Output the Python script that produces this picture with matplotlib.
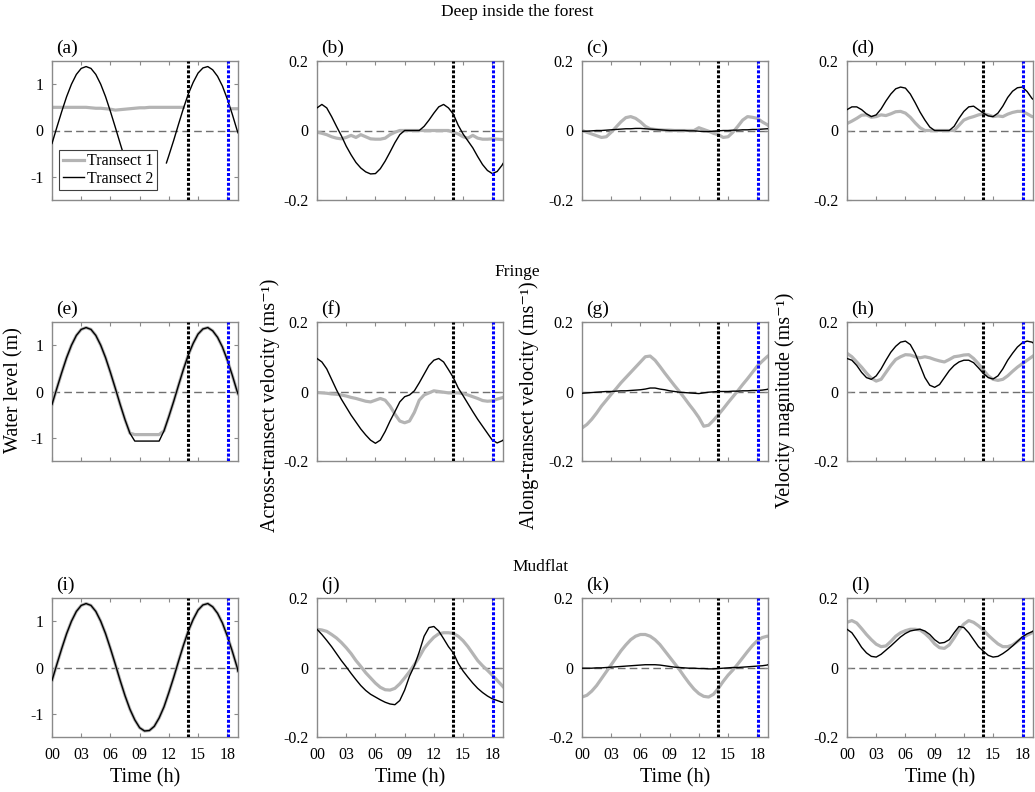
import matplotlib
matplotlib.use("Agg")
import matplotlib.pyplot as plt

plt.rcParams["font.family"] = ["Liberation Serif", "DejaVu Serif"]
plt.rcParams["axes.unicode_minus"] = False

nan = float("nan")

hours = [0, 0.5, 1, 1.5, 2, 2.5, 3, 3.5, 4, 4.5, 5, 5.5, 6, 6.5, 7, 7.5, 8, 8.5, 9, 9.5,
         10, 10.5, 11, 11.5, 12, 12.5, 13, 13.5, 14, 14.5, 15, 15.5, 16, 16.5, 17, 17.5,
         18, 18.5, 19, 19.1]
hours_a = [0, 0.5, 1, 1.5, 2, 2.5, 3, 3.5, 4, 4.5, 5, 5.5, 6, 6.5, 7, 7.25, 9.5, 11.75,
           12, 12.5, 13, 13.5, 14, 14.5, 15, 15.5, 16, 16.5, 17, 17.5, 18, 18.5, 19, 19.1]

# Deep inside the forest
forest_level_t1 = [0.5, 0.5, 0.5, 0.5, 0.5, 0.5, 0.5, 0.5, 0.49, 0.48, 0.48, 0.47, 0.46, 0.44,
                   0.45, 0.46, 0.47, 0.48, 0.49, 0.49, 0.5, 0.5, 0.5, 0.5, 0.5, 0.5, 0.5, 0.5,
                   nan, nan, nan, nan, nan, nan, nan, nan, nan, 0.47, 0.47, 0.47]
forest_level_t2 = [-0.28, 0.07, 0.41, 0.73, 1.00, 1.21, 1.34, 1.38, 1.34, 1.21, 1.00, 0.73,
                   0.41, 0.07, -0.28, -0.45, nan, -0.70, -0.54, -0.21, 0.14, 0.48, 0.79, 1.04,
                   1.24, 1.35, 1.38, 1.31, 1.17, 0.96, 0.68, 0.36, 0.01, -0.05]
forest_across_t1 = [-0.005, -0.008, -0.012, -0.018, -0.022, -0.024, -0.02, -0.014, -0.02, -0.012,
                    -0.018, -0.024, -0.025, -0.025, -0.022, -0.012, -0.005, 0, 0, 0, 0, 0, 0, 0,
                    0, 0, 0, 0, -0.005, -0.01, -0.018, -0.022, -0.014, -0.022, -0.025, -0.025,
                    -0.024, -0.025, -0.026, -0.026]
forest_across_t2 = [0.065, 0.075, 0.065, 0.04, 0.012, -0.015, -0.045, -0.07, -0.092, -0.108,
                    -0.119, -0.125, -0.124, -0.11, -0.088, -0.062, -0.035, -0.012, 0, 0, 0, 0,
                    0.012, 0.03, 0.05, 0.068, 0.075, 0.065, 0.047, 0.015, -0.01, -0.03, -0.05,
                    -0.075, -0.098, -0.115, -0.124, -0.118, -0.1, -0.095]
forest_along_t1 = [0.0, -0.005, -0.01, -0.015, -0.02, -0.018, -0.005, 0.01, 0.025, 0.037, 0.04,
                   0.035, 0.025, 0.012, 0.005, 0.003, 0.002, 0.001, 0.001, 0, 0, 0, 0, 0, 0.008,
                   0.003, -0.002, -0.008, -0.012, -0.02, -0.018, -0.005, 0.012, 0.03, 0.04,
                   0.038, 0.035, 0.025, 0.017, 0.015]
forest_along_t2 = [-0.002, -0.002, -0.001, 0, 0, 0.001, 0.002, 0.003, 0.004, 0.005, 0.005,
                   0.006, 0.006, 0.005, 0.004, 0.003, 0.002, 0.001, 0, 0, 0, 0, -0.001, -0.001,
                   -0.002, -0.003, -0.003, -0.002, -0.001, 0, 0, 0.001, 0.001, 0.002, 0.002,
                   0.003, 0.003, 0.004, 0.005, 0.005]
forest_speed_t1 = [0.02, 0.027, 0.035, 0.044, 0.045, 0.038, 0.04, 0.045, 0.043, 0.048, 0.054,
                   0.055, 0.05, 0.038, 0.022, 0.008, 0, 0, 0, 0, 0, 0, 0, 0.015, 0.03, 0.036,
                   0.04, 0.045, 0.048, 0.045, 0.04, 0.042, 0.04, 0.047, 0.052, 0.055, 0.055,
                   0.048, 0.04, 0.04]
forest_speed_t2 = [0.06, 0.068, 0.068, 0.06, 0.048, 0.04, 0.045, 0.062, 0.085, 0.105, 0.12,
                   0.125, 0.122, 0.105, 0.08, 0.053, 0.03, 0.01, 0, 0, 0, 0, 0.012, 0.035,
                   0.055, 0.068, 0.07, 0.06, 0.05, 0.042, 0.04, 0.05, 0.07, 0.095, 0.113,
                   0.123, 0.125, 0.112, 0.092, 0.09]

# Fringe
fringe_level_t1 = [-0.28, 0.07, 0.41, 0.73, 1.00, 1.21, 1.34, 1.38, 1.34, 1.21, 1.00, 0.73,
                   0.41, 0.07, -0.28, -0.61, -0.90, -0.93, -0.93, -0.93, -0.93, -0.93, -0.93,
                   -0.85, -0.54, -0.21, 0.14, 0.48, 0.79, 1.04, 1.24, 1.35, 1.38, 1.31, 1.17,
                   0.96, 0.68, 0.36, 0.01, -0.05]
fringe_level_t2 = [-0.28, 0.07, 0.41, 0.73, 1.00, 1.21, 1.34, 1.38, 1.34, 1.21, 1.00, 0.73,
                   0.41, 0.07, -0.28, -0.61, -0.90, -1.07, -1.07, -1.07, -1.07, -1.07, -1.07,
                   -0.85, -0.54, -0.21, 0.14, 0.48, 0.79, 1.04, 1.24, 1.35, 1.38, 1.31, 1.17,
                   0.96, 0.68, 0.36, 0.01, -0.05]
fringe_across_t1 = [-0.003, -0.004, -0.005, -0.007, -0.008, -0.01, -0.013, -0.017, -0.02,
                    -0.024, -0.028, -0.03, -0.025, -0.02, -0.025, -0.042, -0.065, -0.085,
                    -0.09, -0.085, -0.06, -0.025, -0.01, -0.004, 0.002, 0.0, -0.002, -0.004,
                    -0.004, -0.004, -0.006, -0.01, -0.015, -0.02, -0.026, -0.028, -0.027,
                    -0.022, -0.018, -0.017]
fringe_across_t2 = [0.095, 0.085, 0.065, 0.035, 0.005, -0.022, -0.045, -0.068, -0.088, -0.108,
                    -0.125, -0.14, -0.149, -0.14, -0.115, -0.085, -0.058, -0.03, -0.015, -0.01,
                    0.002, 0.025, 0.05, 0.075, 0.09, 0.095, 0.085, 0.063, 0.04, 0.01, -0.012,
                    -0.035, -0.058, -0.08, -0.1, -0.12, -0.14, -0.148, -0.142, -0.14]
fringe_along_t1 = [-0.105, -0.095, -0.08, -0.062, -0.042, -0.025, -0.008, 0.008, 0.025, 0.04,
                   0.055, 0.07, 0.085, 0.1, 0.102, 0.09, 0.072, 0.053, 0.035, 0.017, 0.0,
                   -0.018, -0.037, -0.055, -0.075, -0.1, -0.097, -0.083, -0.067, -0.05, -0.032,
                   -0.015, 0.002, 0.02, 0.037, 0.055, 0.073, 0.087, 0.1, 0.102]
fringe_along_t2 = [-0.005, -0.004, -0.003, -0.002, -0.001, 0, 0, 0.001, 0.002, 0.002, 0.003,
                   0.004, 0.005, 0.007, 0.01, 0.01, 0.007, 0.005, 0.002, 0, -0.002, -0.003,
                   -0.004, -0.005, -0.006, -0.004, -0.002, -0.001, 0, 0, 0, 0.001, 0.001, 0.002,
                   0.002, 0.003, 0.003, 0.004, 0.006, 0.007]
fringe_speed_t1 = [0.11, 0.1, 0.085, 0.07, 0.053, 0.038, 0.03, 0.035, 0.055, 0.075, 0.092, 0.1,
                   0.106, 0.105, 0.1, 0.097, 0.1, 0.097, 0.092, 0.088, 0.085, 0.092, 0.1, 0.102,
                   0.105, 0.106, 0.095, 0.08, 0.062, 0.045, 0.035, 0.032, 0.035, 0.045, 0.058,
                   0.07, 0.08, 0.09, 0.1, 0.102]
fringe_speed_t2 = [0.095, 0.09, 0.075, 0.055, 0.04, 0.035, 0.045, 0.065, 0.09, 0.113, 0.13,
                   0.142, 0.145, 0.135, 0.11, 0.075, 0.04, 0.018, 0.012, 0.02, 0.04, 0.06,
                   0.075, 0.085, 0.09, 0.09, 0.083, 0.068, 0.052, 0.04, 0.036, 0.045, 0.065,
                   0.09, 0.11, 0.128, 0.14, 0.145, 0.142, 0.14]

# Mudflat
mud_level = [-0.28, 0.07, 0.41, 0.73, 1.00, 1.21, 1.34, 1.38, 1.34, 1.21, 1.00, 0.73, 0.41,
             0.07, -0.28, -0.61, -0.90, -1.13, -1.30, -1.37, -1.36, -1.27, -1.09, -0.85, -0.54,
             -0.21, 0.14, 0.48, 0.79, 1.04, 1.24, 1.35, 1.38, 1.31, 1.17, 0.96, 0.68, 0.36,
             0.01, -0.08]
mud_across_t1 = [0.11, 0.108, 0.104, 0.095, 0.085, 0.072, 0.057, 0.04, 0.02, 0.003, -0.015,
                 -0.03, -0.045, -0.057, -0.064, -0.065, -0.06, -0.047, -0.03, -0.012, 0.008,
                 0.03, 0.055, 0.072, 0.087, 0.097, 0.1, 0.1, 0.098, 0.09, 0.077, 0.06, 0.04,
                 0.02, 0.005, -0.008, -0.022, -0.037, -0.052, -0.055]
mud_across_t2 = [0.11, 0.095, 0.078, 0.06, 0.04, 0.02, 0.002, -0.017, -0.035, -0.052, -0.066,
                 -0.077, -0.085, -0.093, -0.1, -0.105, -0.107, -0.095, -0.065, -0.025, 0.005,
                 0.045, 0.09, 0.115, 0.118, 0.105, 0.083, 0.06, 0.042, 0.012, -0.01, -0.028,
                 -0.045, -0.06, -0.072, -0.082, -0.09, -0.095, -0.1, -0.1]
mud_along_t1 = [-0.085, -0.08, -0.068, -0.052, -0.032, -0.012, 0.008, 0.028, 0.048, 0.065,
                0.08, 0.09, 0.095, 0.095, 0.09, 0.08, 0.066, 0.048, 0.03, 0.012, -0.006,
                -0.026, -0.045, -0.062, -0.075, -0.083, -0.085, -0.077, -0.06, -0.04, -0.022,
                -0.007, 0.01, 0.028, 0.046, 0.063, 0.077, 0.086, 0.09, 0.09]
mud_along_t2 = [-0.002, -0.002, -0.002, -0.001, -0.001, 0, 0.001, 0.002, 0.003, 0.004, 0.005,
                0.006, 0.007, 0.008, 0.008, 0.008, 0.007, 0.005, 0.003, 0.001, 0, -0.001,
                -0.002, -0.002, -0.003, -0.003, -0.004, -0.004, -0.003, -0.002, -0.001, 0, 0,
                0.001, 0.002, 0.003, 0.004, 0.005, 0.007, 0.008]
mud_speed_t1 = [0.13, 0.135, 0.128, 0.112, 0.095, 0.08, 0.067, 0.06, 0.062, 0.075, 0.09, 0.1,
                0.106, 0.11, 0.11, 0.108, 0.098, 0.085, 0.068, 0.057, 0.055, 0.065, 0.085,
                0.108, 0.125, 0.135, 0.13, 0.12, 0.108, 0.093, 0.08, 0.068, 0.06, 0.06, 0.065,
                0.075, 0.085, 0.093, 0.1, 0.1]
mud_speed_t2 = [0.11, 0.1, 0.08, 0.058, 0.042, 0.032, 0.03, 0.038, 0.05, 0.062, 0.075, 0.088,
                0.098, 0.105, 0.108, 0.11, 0.105, 0.095, 0.08, 0.07, 0.072, 0.08, 0.1, 0.118,
                0.115, 0.1, 0.08, 0.06, 0.047, 0.035, 0.03, 0.032, 0.04, 0.05, 0.062, 0.075,
                0.088, 0.097, 0.103, 0.105]

time_ticks = [0, 3, 6, 9, 12, 15, 18]
time_labels = ["00", "03", "06", "09", "12", "15", "18"]
level_ticks = [-1, 0, 1]
level_labels = ["-1", "0", "1"]
vel_ticks = [-0.2, 0, 0.2]
vel_labels = ["-0.2", "0", "0.2"]
markers = [14.0, 18.1]
marker_colors = ["black", "blue"]

rows = ["Deep inside the forest", "Fringe", "Mudflat"]
panels = [
    [(hours, forest_level_t1, hours_a, forest_level_t2),
     (hours, forest_across_t1, hours, forest_across_t2),
     (hours, forest_along_t1, hours, forest_along_t2),
     (hours, forest_speed_t1, hours, forest_speed_t2)],
    [(hours, fringe_level_t1, hours, fringe_level_t2),
     (hours, fringe_across_t1, hours, fringe_across_t2),
     (hours, fringe_along_t1, hours, fringe_along_t2),
     (hours, fringe_speed_t1, hours, fringe_speed_t2)],
    [(hours, mud_level, hours, mud_level),
     (hours, mud_across_t1, hours, mud_across_t2),
     (hours, mud_along_t1, hours, mud_along_t2),
     (hours, mud_speed_t1, hours, mud_speed_t2)],
]
letters = "abcdefghijkl"

W, H = 1035, 792
fig = plt.figure(figsize=(W / 100, H / 100), dpi=100)

col_left = [52, 317, 582, 847]
row_top = [61, 322, 598]
aw, ah = 186, 139
title_x = [517, 517, 541]
title_y = [12, 272, 567]
spine_col = "#8a8a8a"

for r in range(3):
    fig.text(title_x[r] / W, 1 - title_y[r] / H, rows[r], ha="center", va="center",
             fontsize=12.5)
    for c in range(4):
        ax = fig.add_axes([col_left[c] / W, 1 - (row_top[r] + ah) / H, aw / W, ah / H])
        t1, v1, t2, v2 = panels[r][c]
        ax.axhline(0, color="#707070", lw=1, dashes=(5.5, 3), zorder=1)
        l1, = ax.plot(t1, v1, color="#b4b4b4", lw=2.3, zorder=2, label="Transect 1")
        l2, = ax.plot(t2, v2, color="black", lw=1.0, zorder=3, label="Transect 2")
        for m, mc in zip(markers, marker_colors):
            ax.axvline(m, color=mc, lw=2.2, ls=(0, (1.0, 0.6)), zorder=4)
        ax.set_xlim(0, 19.1)
        ax.set_xticks(time_ticks)
        if c == 0:
            ax.set_ylim(-1.5, 1.5)
            ax.set_yticks(level_ticks)
            ax.set_yticklabels(level_labels)
        else:
            ax.set_ylim(-0.2, 0.2)
            ax.set_yticks(vel_ticks)
            ax.set_yticklabels(vel_labels)
        if r == 2:
            ax.set_xticklabels(time_labels)
            ax.set_xlabel("Time (h)", fontsize=14.5, labelpad=4)
        else:
            ax.set_xticklabels([])
        ax.tick_params(direction="in", top=True, right=True, length=3, width=0.8,
                       color=spine_col, labelsize=11.5)
        ax.tick_params(axis="x", pad=7)
        ax.tick_params(axis="y", pad=6)
        for s in ax.spines.values():
            s.set_color(spine_col)
            s.set_linewidth(1.0)
        ax.text(0.02, 1.03, "(" + letters[r * 4 + c] + ")", transform=ax.transAxes,
                ha="left", va="bottom", fontsize=14)
        if r == 0 and c == 0:
            leg = ax.legend(handles=[l1, l2], loc="lower left", bbox_to_anchor=(0.04, 0.07),
                            borderaxespad=0, fontsize=11.5, handlelength=1.35,
                            handletextpad=0.2, borderpad=0.2, labelspacing=0.1,
                            fancybox=False, framealpha=1)
            leg.get_frame().set_edgecolor("#404040")
            leg.get_frame().set_linewidth(0.8)

ylabels = [("Water level (m)", 14, 390),
           ("Across-transect velocity (ms\u207b\u00b9)", 270, 405),
           ("Along-transect velocity (ms\u207b\u00b9)", 529, 405),
           ("Velocity magnitude (ms\u207b\u00b9)", 785, 400)]
for txt, x, y in ylabels:
    fig.text(x / W, 1 - y / H, txt, rotation=90, ha="center", va="center", fontsize=14.5)

fig.savefig("out.png", dpi=100)
